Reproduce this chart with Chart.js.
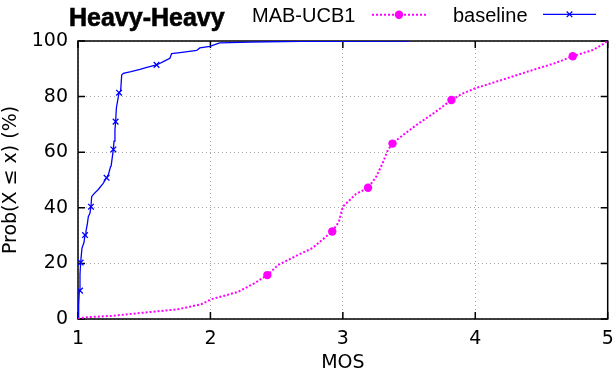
<!DOCTYPE html>
<html>
<head>
<meta charset="utf-8">
<script src="https://cdn.jsdelivr.net/npm/chart.js@4/dist/chart.umd.min.js"></script>
<style>
  html, body { margin: 0; padding: 0; background: #fff; }
  #wrap { position: relative; width: 613px; height: 375px; overflow: hidden; }
  canvas { position: absolute; left: 0; top: 0; }
  .t { position: absolute; white-space: nowrap; color: #000; }
  #title { left: 69px; top: 5px; font: bold 25px "Liberation Sans", Arial, sans-serif; line-height: 25px; -webkit-text-stroke: 0.6px #000; }
  .leg { top: 5px; font: 20px "Liberation Sans", Arial, sans-serif; line-height: 20px; }
</style>
</head>
<body>
<div id="wrap">
  <canvas id="c" width="613" height="375"></canvas>
  <div class="t" id="title">Heavy-Heavy</div>
  <div class="t leg" style="left:252px">MAB-UCB1</div>
  <div class="t leg" style="left:453px">baseline</div>
</div>
<script>
// ---- data ----
const xTickValues = [1, 2, 3, 4, 5];
const yTickValues = [0, 20, 40, 60, 80, 100];

const seriesNames = ["MAB-UCB1", "baseline"];

// MAB-UCB1 CDF curve
const mabX = [1.0, 1.05, 1.25, 1.5, 1.755, 1.93, 1.97, 2.006, 2.1, 2.21, 2.33, 2.43, 2.51, 2.66, 2.77, 2.92, 2.97, 3.0, 3.1, 3.19, 3.25, 3.3, 3.34, 3.375, 3.45, 3.556, 3.7, 3.82, 3.9, 4.0, 4.2, 4.436, 4.6, 4.736, 4.89, 4.97, 5.0];
const mabY = [0, 0.6, 1.1, 2.3, 3.5, 5.3, 6.2, 7.1, 8.3, 9.8, 12.8, 15.8, 19.4, 23, 25.5, 31.5, 35, 40.4, 45, 47.2, 51, 56, 60.8, 63.1, 66, 69.8, 74.5, 78.8, 81, 83, 86, 89.6, 92, 94.5, 96.8, 99, 100];
// MAB-UCB1 marker points
const mabMarkX = [2.43, 2.92, 3.19, 3.375, 3.82, 4.736];
const mabMarkY = [15.8, 31.5, 47.2, 63.1, 78.8, 94.5];

// baseline CDF curve
const blX = [1.0, 1.005, 1.01, 1.015, 1.02, 1.03, 1.045, 1.053, 1.06, 1.07, 1.078, 1.09, 1.098, 1.103, 1.12, 1.153, 1.19, 1.216, 1.23, 1.246, 1.25, 1.267, 1.272, 1.279, 1.284, 1.29, 1.31, 1.322, 1.33, 1.342, 1.4, 1.468, 1.52, 1.593, 1.62, 1.644, 1.694, 1.707, 1.8, 1.896, 1.92, 1.996, 2.07, 2.3, 2.68, 3.5];
const blY = [0, 5, 10.2, 16, 20.3, 25.5, 27.5, 30.2, 31.5, 34, 36.8, 38, 40.4, 44, 45, 46.6, 48.8, 50.8, 52, 54.8, 55, 61, 64, 68, 71, 76, 81.4, 82, 87.8, 88.4, 89, 89.8, 90.5, 91.4, 92, 92.6, 93.8, 95.5, 96, 96.6, 97.5, 98.1, 99.3, 99.6, 99.9, 100];
// baseline marker points
const blMarkX = [1.015, 1.02, 1.053, 1.098, 1.216, 1.267, 1.284, 1.31, 1.593];
const blMarkY = [10.2, 20.3, 30.2, 40.4, 50.8, 61, 71, 81.4, 91.4];

const xTitle = "MOS";
const yTitle = "Prob(X \u2264 x) (%)";

// ---- build chart ----
const pts = (xs, ys) => xs.map((x, i) => ({x: x, y: ys[i]}));
const MAG = "#ff00ff", BLUE = "#0000ff";
const tickFont = {family: "'DejaVu Sans'", size: 19};

const frame = {
  id: "frame",
  beforeDatasetsDraw(chart) {
    const {ctx, chartArea: a, scales: {x, y}} = chart;
    ctx.save();
    ctx.strokeStyle = "#000";
    ctx.lineWidth = 1.5;
    const L = 7;
    ctx.beginPath();
    x.ticks.forEach(t => {
      const px = x.getPixelForValue(t.value);
      ctx.moveTo(px, a.bottom); ctx.lineTo(px, a.bottom - L);
      ctx.moveTo(px, a.top); ctx.lineTo(px, a.top + L);
    });
    y.ticks.forEach(t => {
      const py = y.getPixelForValue(t.value);
      ctx.moveTo(a.left, py); ctx.lineTo(a.left + L, py);
      ctx.moveTo(a.right, py); ctx.lineTo(a.right - L, py);
    });
    ctx.stroke();
    ctx.strokeRect(a.left, a.top, a.right - a.left, a.bottom - a.top);
    ctx.restore();
  },
  afterDraw(chart) {
    // legend samples
    const {ctx} = chart;
    const d = chart.data.datasets;
    ctx.save();
    ctx.strokeStyle = d[0].borderColor; ctx.lineWidth = d[0].borderWidth;
    ctx.setLineDash(d[0].borderDash);
    ctx.beginPath(); ctx.moveTo(372, 14.7); ctx.lineTo(426, 14.7); ctx.stroke();
    ctx.setLineDash([]);
    ctx.fillStyle = d[1].pointBackgroundColor;
    ctx.beginPath(); ctx.arc(399, 14.7, d[1].pointRadius, 0, Math.PI * 2); ctx.fill();
    ctx.strokeStyle = d[2].borderColor; ctx.lineWidth = d[2].borderWidth;
    ctx.beginPath(); ctx.moveTo(543, 14.3); ctx.lineTo(596, 14.3); ctx.stroke();
    const r = d[3].pointRadius * 0.7;
    ctx.strokeStyle = d[3].pointBorderColor; ctx.lineWidth = d[3].pointBorderWidth;
    ctx.beginPath();
    ctx.moveTo(569.5 - r, 14.3 - r); ctx.lineTo(569.5 + r, 14.3 + r);
    ctx.moveTo(569.5 - r, 14.3 + r); ctx.lineTo(569.5 + r, 14.3 - r);
    ctx.stroke();
    ctx.restore();
  }
};

new Chart(document.getElementById("c"), {
  type: "scatter",
  data: {
    datasets: [
      { label: seriesNames[0], data: pts(mabX, mabY), showLine: true, borderColor: MAG, borderWidth: 2,
        borderDash: [2, 2], pointRadius: 0, tension: 0, fill: false },
      { label: seriesNames[0] + " markers", data: pts(mabMarkX, mabMarkY), showLine: false, pointStyle: "circle",
        pointRadius: 4.2, pointBackgroundColor: MAG, pointBorderColor: MAG, pointBorderWidth: 0 },
      { label: seriesNames[1], data: pts(blX, blY), showLine: true, borderColor: BLUE, borderWidth: 1.3,
        pointRadius: 0, tension: 0, fill: false },
      { label: seriesNames[1] + " markers", data: pts(blMarkX, blMarkY), showLine: false, pointStyle: "crossRot",
        pointRadius: 4, pointBorderColor: BLUE, pointBorderWidth: 1.3, pointBackgroundColor: BLUE }
    ]
  },
  options: {
    responsive: false,
    animation: false,
    events: [],
    layout: { padding: { top: 41, right: 5, left: 0, bottom: 0 } },
    plugins: { legend: { display: false }, title: { display: false }, tooltip: { enabled: false } },
    scales: {
      x: {
        type: "linear", min: xTickValues[0], max: xTickValues[xTickValues.length - 1],
        afterBuildTicks: s => { s.ticks = xTickValues.map(v => ({value: v})); },
        afterFit: s => { s.height = 56; s.paddingLeft = 0; s.paddingRight = 0; },
        ticks: { color: "#000", font: tickFont, padding: 9, maxRotation: 0 },
        grid: { color: "#a8a8a8", lineWidth: 1, drawTicks: false },
        border: { display: false, dash: [1, 3] },
        title: { display: true, text: xTitle, color: "#000", font: tickFont, padding: { top: 0, bottom: 1 } }
      },
      y: {
        type: "linear", min: yTickValues[0], max: yTickValues[yTickValues.length - 1],
        afterBuildTicks: s => { s.ticks = yTickValues.map(v => ({value: v})); },
        afterFit: s => { s.width = 78; s.paddingTop = 0; s.paddingBottom = 0; },
        ticks: { color: "#000", font: tickFont, padding: 10 },
        grid: { color: "#a8a8a8", lineWidth: 1, drawTicks: false },
        border: { display: false, dash: [1, 3] },
        title: { display: true, text: yTitle, color: "#000", font: tickFont, padding: { top: 0, bottom: 7 } }
      }
    }
  },
  plugins: [frame]
});
</script>
</body>
</html>
